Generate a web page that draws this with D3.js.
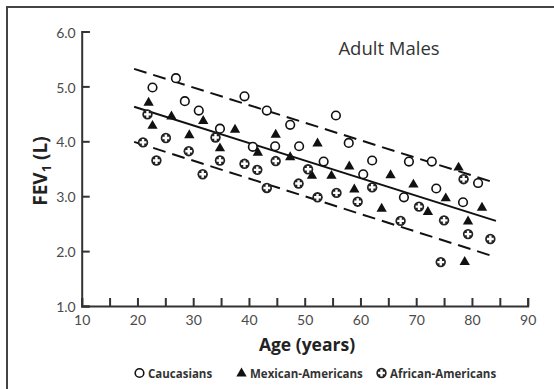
<!DOCTYPE html>
<html>
<head>
<meta charset="utf-8">
<script src="https://cdn.jsdelivr.net/npm/d3@7"></script>
<style>
  html, body { margin: 0; padding: 0; background: #fff; }
  svg { display: block; }
  text { font-family: "Open Sans", Lato, sans-serif; }
</style>
</head>
<body>
<script>
// FEV1 vs age, adult males, by ethnic group
const caucasians = [
  [22.7, 4.98], [26.9, 5.15], [28.5, 4.73], [31.0, 4.56], [34.8, 4.23],
  [39.2, 4.82], [40.7, 3.90], [43.2, 4.56], [44.7, 3.91], [47.4, 4.30],
  [49.0, 3.91], [53.4, 3.63], [55.6, 4.47], [57.9, 3.97], [60.5, 3.40],
  [62.1, 3.65], [67.8, 2.98], [68.7, 3.63], [72.8, 3.63], [73.6, 3.14],
  [78.4, 2.89], [81.1, 3.24]
];
const mexicanAmericans = [
  [22.0, 4.71], [22.7, 4.29], [26.1, 4.46], [29.3, 4.12], [31.8, 4.38],
  [34.8, 3.88], [37.5, 4.22], [41.6, 3.80], [44.8, 4.13], [47.4, 3.72],
  [51.3, 3.38], [52.3, 3.97], [54.8, 3.38], [58.0, 3.55], [58.9, 3.13],
  [63.8, 2.78], [65.4, 3.39], [69.5, 3.22], [72.1, 2.72], [75.3, 2.97],
  [77.6, 3.53], [79.3, 2.55], [81.8, 2.80], [78.7, 1.81]
];
const africanAmericans = [
  [21.0, 3.98], [21.8, 4.49], [23.4, 3.65], [25.1, 4.06], [29.2, 3.82],
  [31.7, 3.40], [34.0, 4.07], [34.8, 3.65], [39.2, 3.59], [41.5, 3.48],
  [43.2, 3.15], [44.8, 3.64], [48.9, 3.23], [50.6, 3.49], [52.3, 2.98],
  [55.7, 3.06], [59.5, 2.90], [62.1, 3.16], [67.2, 2.55], [70.5, 2.81],
  [74.4, 1.80], [75.0, 2.56], [78.5, 3.31], [79.3, 2.31], [83.3, 2.22]
];
// regression line and its limits: [age, FEV1] at both ends
const fitLine   = [[19.4, 4.63], [84.3, 2.55]];
const upperLine = [[19.4, 5.32], [84.3, 3.24]];
const lowerLine = [[19.4, 3.99], [84.3, 1.89]];

const xTicks = [10, 15, 20, 25, 30, 35, 40, 45, 50, 55, 60, 65, 70, 75, 80, 85, 90];
const yTicks = [1, 2, 3, 4, 5, 6];
const legendLabels = ["Caucasians", "Mexican-Americans", "African-Americans"];

const W = 554, H = 389;
const svg = d3.select("body").append("svg").attr("width", W).attr("height", H);

// outer frame (top and left edges)
svg.append("path")
  .attr("d", "M7,389 L7,7 L554,7")
  .attr("fill", "none").attr("stroke", "#444").attr("stroke-width", 2);

const x = d3.scaleLinear().domain([10, 90]).range([81.7, 527.7]);
const y = d3.scaleLinear().domain([1, 6]).range([306, 31.5]);

const axisColor = "#333";
const tickText = "#4a4a4a";

const xAxis = svg.append("g")
  .attr("transform", `translate(0,${y(1)})`)
  .call(d3.axisBottom(x).tickValues(xTicks).tickSize(-8).tickPadding(9)
    .tickFormat(d => d % 10 === 0 ? d : ""));
const yAxis = svg.append("g")
  .attr("transform", `translate(${x(10)},0)`)
  .call(d3.axisLeft(y).tickValues(yTicks).tickSize(-8).tickPadding(6)
    .tickFormat(d3.format(".1f")));

[xAxis, yAxis].forEach(g => {
  g.select(".domain").attr("stroke", axisColor).attr("stroke-width", 2);
  g.selectAll(".tick line").attr("stroke", axisColor).attr("stroke-width", 2);
  g.selectAll(".tick text").attr("fill", tickText)
    .style("font-family", "Lato, sans-serif").style("font-size", "14px");
});
yAxis.selectAll(".tick text").attr("dy", "0.4em");

// fitted line and limits
const line = d3.line().x(d => x(d[0])).y(d => y(d[1]));
svg.append("path").datum(fitLine).attr("d", line)
  .attr("fill", "none").attr("stroke", "#111").attr("stroke-width", 2);
[upperLine, lowerLine].forEach(l => {
  svg.append("path").datum(l).attr("d", line)
    .attr("fill", "none").attr("stroke", "#111").attr("stroke-width", 2)
    .attr("stroke-dasharray", "13,7");
});

// marker drawing helpers
function openCircle(g) {
  g.append("circle").attr("r", 4.3)
    .attr("fill", "#fff").attr("stroke", "#111").attr("stroke-width", 1.6);
}
function triangle(g) {
  g.append("path").attr("d", d3.symbol(d3.symbolTriangle, 46)())
    .attr("transform", "translate(0,0.5)")
    .attr("fill", "#111");
}
function crossCircle(g) {
  g.append("circle").attr("r", 5.2).attr("fill", "#222");
  g.append("path")
    .attr("d", "M-1.2,-3.4H1.2V-1.2H3.4V1.2H1.2V3.4H-1.2V1.2H-3.4V-1.2H-1.2Z")
    .attr("fill", "#fff");
}

function plotSeries(data, draw) {
  svg.append("g").selectAll("g").data(data).join("g")
    .attr("transform", d => `translate(${x(d[0])},${y(d[1])})`)
    .each(function () { draw(d3.select(this)); });
}
plotSeries(caucasians, openCircle);
plotSeries(mexicanAmericans, triangle);
plotSeries(africanAmericans, crossCircle);

// panel title
svg.append("text").attr("x", 389).attr("y", 55).attr("text-anchor", "middle")
  .attr("fill", "#333").style("font-size", "18.5px").text("Adult Males");

// axis titles
svg.append("text").attr("x", 307).attr("y", 351).attr("text-anchor", "middle")
  .attr("fill", "#222").style("font-size", "17.5px").style("font-weight", "bold")
  .text("Age (years)");

const yt = svg.append("text")
  .attr("transform", "translate(47,171) rotate(-90)")
  .attr("text-anchor", "middle").attr("fill", "#222")
  .style("font-size", "19px").style("font-weight", "bold");
yt.append("tspan").text("FEV");
yt.append("tspan").attr("dy", 4).style("font-size", "13px").text("1");
yt.append("tspan").attr("dy", -4).text(" (L)");

// legend
const legendX = [135, 237, 377];
const legendDraw = [openCircle, triangle, crossCircle];
legendLabels.forEach((label, i) => {
  const g = svg.append("g").attr("transform", `translate(${legendX[i]},373)`);
  const m = g.append("g").attr("transform", "translate(4.5,0)");
  legendDraw[i](m);
  g.append("text").attr("x", 13).attr("y", 4.5).attr("fill", "#333")
    .style("font-size", "11.5px").style("font-weight", "bold").text(label);
});
</script>
</body>
</html>
